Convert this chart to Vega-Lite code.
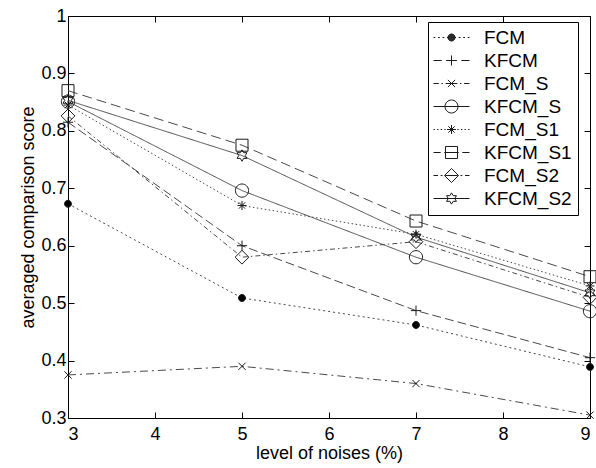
{
  "$schema": "https://vega.github.io/schema/vega-lite/v6.json",
  "width": 522,
  "height": 402,
  "autosize": "none",
  "padding": {"left": 68, "top": 16, "right": 6, "bottom": 50},
  "background": "#ffffff",
  "config": {
    "font": "Liberation Sans",
    "view": {"stroke": "#000000", "strokeWidth": 1},
    "axis": {
      "grid": false,
      "domain": false,
      "tickColor": "#000000",
      "tickSize": -6,
      "labelFont": "Liberation Sans",
      "labelFontSize": 18,
      "labelColor": "#000000",
      "titleFont": "Liberation Sans",
      "titleFontSize": 18,
      "titleFontWeight": "normal",
      "titleColor": "#000000"
    }
  },
  "data": {
    "values": [
      {"series": "FCM", "noise": 3, "score": 0.673},
      {"series": "FCM", "noise": 5, "score": 0.509},
      {"series": "FCM", "noise": 7, "score": 0.462},
      {"series": "FCM", "noise": 9, "score": 0.389},
      {"series": "KFCM", "noise": 3, "score": 0.815},
      {"series": "KFCM", "noise": 5, "score": 0.6},
      {"series": "KFCM", "noise": 7, "score": 0.487},
      {"series": "KFCM", "noise": 9, "score": 0.405},
      {"series": "FCM_S", "noise": 3, "score": 0.375},
      {"series": "FCM_S", "noise": 5, "score": 0.39},
      {"series": "FCM_S", "noise": 7, "score": 0.36},
      {"series": "FCM_S", "noise": 9, "score": 0.305},
      {"series": "KFCM_S", "noise": 3, "score": 0.851},
      {"series": "KFCM_S", "noise": 5, "score": 0.696},
      {"series": "KFCM_S", "noise": 7, "score": 0.58},
      {"series": "KFCM_S", "noise": 9, "score": 0.486},
      {"series": "FCM_S1", "noise": 3, "score": 0.845},
      {"series": "FCM_S1", "noise": 5, "score": 0.67},
      {"series": "FCM_S1", "noise": 7, "score": 0.62},
      {"series": "FCM_S1", "noise": 9, "score": 0.53},
      {"series": "KFCM_S1", "noise": 3, "score": 0.87},
      {"series": "KFCM_S1", "noise": 5, "score": 0.775},
      {"series": "KFCM_S1", "noise": 7, "score": 0.643},
      {"series": "KFCM_S1", "noise": 9, "score": 0.546},
      {"series": "FCM_S2", "noise": 3, "score": 0.826},
      {"series": "FCM_S2", "noise": 5, "score": 0.58},
      {"series": "FCM_S2", "noise": 7, "score": 0.607},
      {"series": "FCM_S2", "noise": 9, "score": 0.51},
      {"series": "KFCM_S2", "noise": 3, "score": 0.853},
      {"series": "KFCM_S2", "noise": 5, "score": 0.757},
      {"series": "KFCM_S2", "noise": 7, "score": 0.615},
      {"series": "KFCM_S2", "noise": 9, "score": 0.518}
    ]
  },
  "layer": [
    {
      "mark": {"type": "line", "strokeWidth": 1, "color": "#4a4a4a"},
      "encoding": {
        "x": {"field": "noise", "type": "quantitative", "scale": {"domain": [3, 9], "nice": false},
          "axis": {"values": [3, 4, 5, 6, 7, 8, 9], "title": "level of noises (%)", "labelPadding": 13, "titlePadding": 1}},
        "y": {"field": "score", "type": "quantitative", "scale": {"domain": [0.3, 1], "nice": false, "zero": false},
          "axis": {"values": [0.3, 0.4, 0.5, 0.6, 0.7, 0.8, 0.9, 1], "format": ".1~f", "title": "averaged comparison score", "labelPadding": 8, "titlePadding": 3}},
        "strokeDash": {"field": "series", "type": "nominal", "legend": null,
          "scale": {"domain": ["FCM", "KFCM", "FCM_S", "KFCM_S", "FCM_S1", "KFCM_S1", "FCM_S2", "KFCM_S2"],
            "range": [[2, 3], [9, 4], [8, 4, 2, 4], [1, 0], [1.5, 2.5], [10, 5], [5, 3, 1.5, 3], [1, 0]]}}
      }
    },
    {
      "mark": {"type": "point", "size": 144, "strokeWidth": 1, "stroke": "#1a1a1a", "opacity": 1},
      "encoding": {
        "x": {"field": "noise", "type": "quantitative", "axis": null},
        "y": {"field": "score", "type": "quantitative", "axis": null},
        "shape": {"field": "series", "type": "nominal", "legend": null,
          "scale": {"domain": ["FCM", "KFCM", "FCM_S", "KFCM_S", "FCM_S1", "KFCM_S1", "FCM_S2", "KFCM_S2"],
            "range": [
              "M0.58,0A0.58,0.58 0 1,1 -0.58,0A0.58,0.58 0 1,1 0.58,0Z",
              "M-0.85,0H0.85M0,-0.85V0.85",
              "M-0.6,-0.6L0.6,0.6M-0.6,0.6L0.6,-0.6",
              "M1.1,0A1.1,1.1 0 1,1 -1.1,0A1.1,1.1 0 1,1 1.1,0Z",
              "M-0.75,0H0.75M0,-0.75V0.75M-0.53,-0.53L0.53,0.53M-0.53,0.53L0.53,-0.53",
              "M-1,-1H1V1H-1Z",
              "M0,-1.15L1.15,0L0,1.15L-1.15,0Z",
              "M0,-0.95L0.274,-0.475L0.823,-0.475L0.548,0L0.823,0.475L0.274,0.475L0,0.95L-0.274,0.475L-0.823,0.475L-0.548,0L-0.823,-0.475L-0.274,-0.475Z"
            ]}},
        "fill": {"field": "series", "type": "nominal", "legend": null,
          "scale": {"domain": ["FCM", "KFCM", "FCM_S", "KFCM_S", "FCM_S1", "KFCM_S1", "FCM_S2", "KFCM_S2"],
            "range": ["#000000", "transparent", "transparent", "transparent", "transparent", "transparent", "transparent", "transparent"]}}
      }
    },
    {
      "transform": [{"filter": "datum.noise < 0"}],
      "mark": {"type": "point", "filled": false, "color": "#1a1a1a", "strokeWidth": 1, "opacity": 1},
      "encoding": {
        "x": {"field": "noise", "type": "quantitative", "axis": null},
        "y": {"field": "score", "type": "quantitative", "axis": null},
        "shape": {"field": "series", "type": "nominal",
          "scale": {"domain": ["FCM", "KFCM", "FCM_S", "KFCM_S", "FCM_S1", "KFCM_S1", "FCM_S2", "KFCM_S2"],
            "range": [
              "M-2,0H-1.8M-1.5,0H-1.3M-1,0H-0.8M-0.5,0H-0.3M0.3,0H0.5M0.8,0H1M1.3,0H1.5M1.8,0H2M0.39,0A0.39,0.39 0 1,1 -0.39,0A0.39,0.39 0 1,1 0.39,0M0.34,0A0.34,0.34 0 1,1 -0.34,0A0.34,0.34 0 1,1 0.34,0M0.29,0A0.29,0.29 0 1,1 -0.29,0A0.29,0.29 0 1,1 0.29,0M0.24,0A0.24,0.24 0 1,1 -0.24,0A0.24,0.24 0 1,1 0.24,0M0.19,0A0.19,0.19 0 1,1 -0.19,0A0.19,0.19 0 1,1 0.19,0M0.14,0A0.14,0.14 0 1,1 -0.14,0A0.14,0.14 0 1,1 0.14,0M0.09,0A0.09,0.09 0 1,1 -0.09,0A0.09,0.09 0 1,1 0.09,0M0.045,0A0.045,0.045 0 1,1 -0.045,0A0.045,0.045 0 1,1 0.045,0M-0.05,0H0.05",
              "M-2,0H-1.1M-0.6,0H0.6M1.1,0H2M0,-0.56V0.56",
              "M-2,0H-1.4M-1.1,0H-0.95M-0.65,0H0.65M0.95,0H1.1M1.4,0H2M-0.4,-0.4L0.4,0.4M-0.4,0.4L0.4,-0.4",
              "M-2,0H2M0.72,0A0.72,0.72 0 1,1 -0.72,0A0.72,0.72 0 1,1 0.72,0Z",
              "M-2,0H-1.85M-1.6,0H-1.45M-1.2,0H-1.05M-0.8,0H-0.65M0.65,0H0.8M1.05,0H1.2M1.45,0H1.6M1.85,0H2M-0.5,0H0.5M0,-0.5V0.5M-0.35,-0.35L0.35,0.35M-0.35,0.35L0.35,-0.35",
              "M-2,0H-1.2M-0.8,0H0.8M1.2,0H2M-0.67,-0.67H0.67V0.67H-0.67Z",
              "M-2,0H-1.5M-1.2,0H-1M-0.7,0H0.7M1,0H1.2M1.5,0H2M0,-0.78L0.78,0L0,0.78L-0.78,0Z",
              "M-2,0H2M0,-0.63L0.182,-0.315L0.546,-0.315L0.364,0L0.546,0.315L0.182,0.315L0,0.63L-0.182,0.315L-0.546,0.315L-0.364,0L-0.546,-0.315L-0.182,-0.315Z"
            ]},
          "legend": {
            "orient": "none",
            "legendX": 360,
            "legendY": 6,
            "title": null,
            "strokeColor": "#000000",
            "fillColor": "#ffffff",
            "padding": 6,
            "symbolOffset": 8,
            "symbolSize": 324,
            "symbolStrokeWidth": 1,
            "symbolStrokeColor": "#1a1a1a",
            "symbolFillColor": "transparent",
            "symbolOpacity": 1,
            "labelFont": "Liberation Sans",
            "labelFontSize": 19,
            "labelColor": "#000000",
            "labelOffset": 23,
            "labelExpr": "datum.label + '\u00a0\u00a0'",
            "rowPadding": 3
          }}
      }
    },
    {
      "mark": {"type": "point", "opacity": 0},
      "encoding": {
        "x": {"field": "noise", "type": "quantitative",
          "axis": {"orient": "top", "values": [3, 4, 5, 6, 7, 8, 9], "labels": false, "title": null}},
        "y": {"field": "score", "type": "quantitative",
          "axis": {"orient": "right", "values": [0.3, 0.4, 0.5, 0.6, 0.7, 0.8, 0.9, 1], "labels": false, "title": null}}
      }
    }
  ],
  "resolve": {
    "scale": {"shape": "independent"},
    "axis": {"x": "independent", "y": "independent"}
  }
}
